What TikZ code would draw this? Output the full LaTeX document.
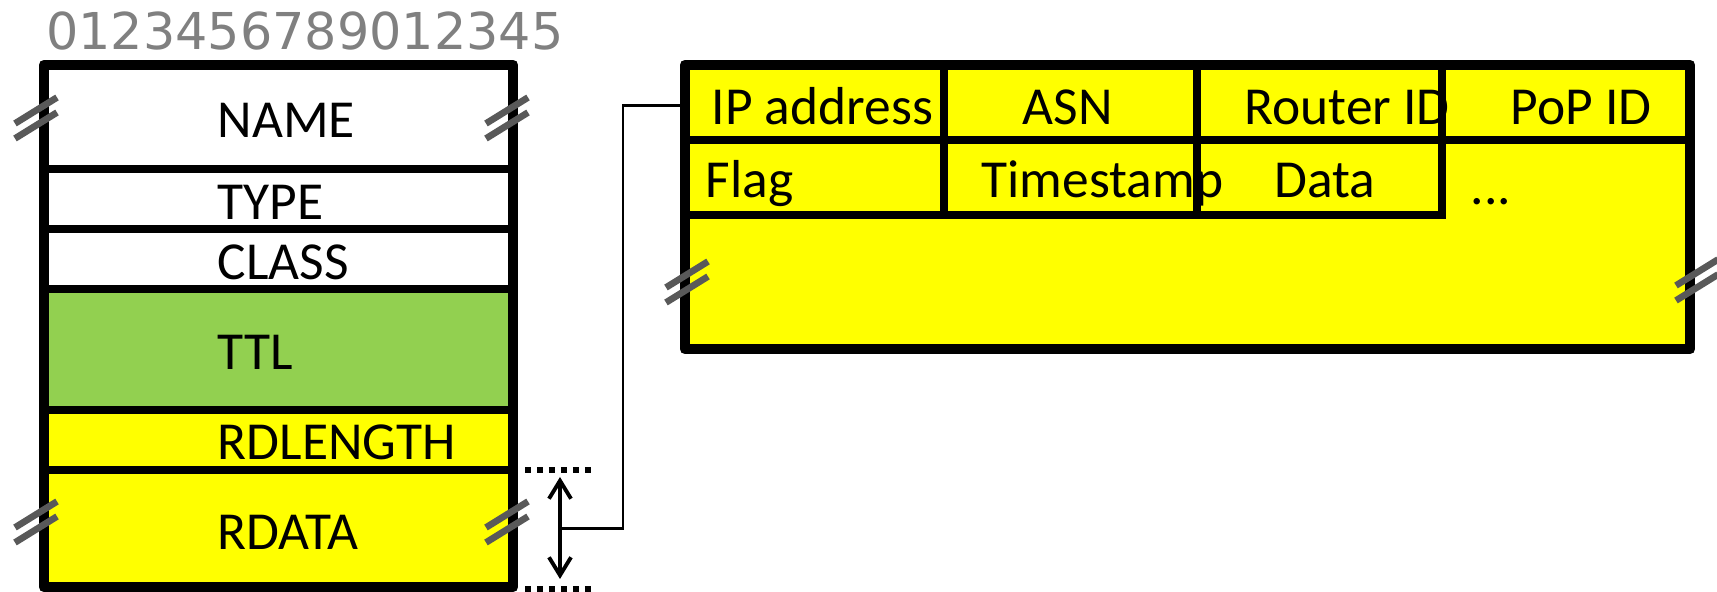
\documentclass[tikz,border=0pt]{standalone}
\usepackage{fontspec}
\setmainfont{Carlito}
\newfontfamily\bitfont{DejaVu Sans}
\usepackage{tikz}
\usetikzlibrary{arrows.meta}
\usepackage{xcolor}
\definecolor{fyellow}{HTML}{FFFF00}
\definecolor{fgreen}{HTML}{92D050}
\definecolor{fmark}{HTML}{595959}
\definecolor{fbits}{HTML}{808080}
\tikzset{
  frame/.style = {line width=3.1pt, line join=round},
  rule/.style  = {line width=2.1pt},
  field/.style = {anchor=base west, inner sep=0pt,
                  font=\fontsize{15.2}{18}\selectfont},
  brk/.style   = {fmark, line width=1.9pt},
  wire/.style  = {line width=0.85pt},
  guide/.style = {line width=1.7pt, dash pattern=on 1.7pt off 1.7pt},
  span/.style  = {{Straight Barb[length=1.8mm,width=2.2mm]}-{Straight Barb[length=1.8mm,width=2.2mm]},
                  line width=1.1pt},
}

\begin{document}
\begin{tikzpicture}[x=0.01cm,y=-0.01cm]
\useasboundingbox (0,0) rectangle (1717,592);
\node[anchor=base, inner sep=0pt, text=fbits,
      font=\bitfont\fontsize{14.45}{17}\selectfont] (bits) at (305,50) {0123456789012345};
% resource record
\fill[white] (44,65) rectangle (513,289);
\fill[fgreen] (44,289) rectangle (513,410);
\fill[fyellow] (44,410) rectangle (513,587);
\foreach \y in {169,229,289,410,470}
  \draw[rule] (44,\y) -- (513,\y);
\draw[frame] (44,65) rectangle (513,587);
\node[field] (name) at (217,138) {NAME};
\node[field] (type) at (217,220) {TYPE};
\node[field] (class) at (217,280) {CLASS};
\node[field] (ttl) at (217,370) {TTL};
\node[field] (rdlength) at (217,460) {RDLENGTH};
\node[field] (rdata) at (217,550) {RDATA};
% rdata span
\coordinate (g1) at (525,470); \coordinate (g2) at (593,470);
\coordinate (g3) at (525,589); \coordinate (g4) at (593,589);
\draw[guide] (g1) -- (g2);
\draw[guide] (g3) -- (g4);
\coordinate (dtop) at (560,477);
\coordinate (dbot) at (560,579);
\coordinate (dmid) at (560,529);
\draw[span] (dtop) -- (dbot);
\coordinate (rin) at (685,106);
\draw[wire] (rin) -- ++(-62,0) |- (dmid);
% rdata contents
\draw[frame, fill=fyellow] (685,65) rectangle (1690,349);
\node[field] (ipaddr) at (711,125) {IP address};
\node[field] (asn) at (1022,125) {ASN};
\node[field] (routerid) at (1244,125) {Router ID};
\node[field] (popid) at (1510,125) {PoP ID};
\node[field] (flag) at (705,198) {Flag};
\node[field] (tstamp) at (981,198) {Timestamp};
\node[field] (data) at (1274,198) {Data};
\node[field] (more) at (1470,205) {...};
\draw[rule] (685,140) -- (1690,140);
\draw[rule] (685,215) -- (1446,215);
\foreach \x in {944,1197,1442}
  \draw[rule] (\x,65) -- (\x,215);
\foreach \x/\y in {36/118,507/118,36/522,507/522,687/282,1697/280}
  \foreach \d in {-7.5,7.5}
    \draw[brk] (\x-21,\y+\d+13) -- (\x+21,\y+\d-13);
\end{tikzpicture}
\end{document}
